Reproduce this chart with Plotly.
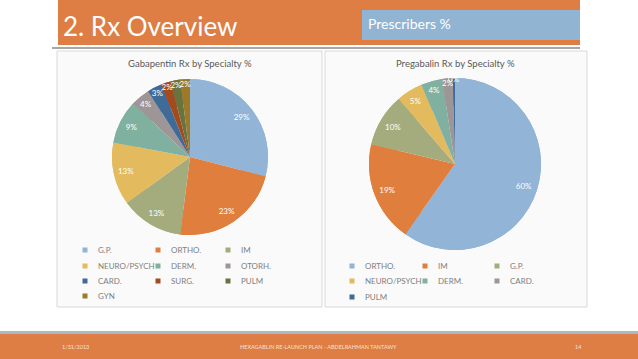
import plotly.graph_objects as go

W, H = 638, 359

# ---- data ----
gaba_labels = ["G.P.", "ORTHO.", "IM", "NEURO/PSYCH", "DERM.", "OTORH.", "CARD.", "SURG.", "PULM", "GYN"]
gaba_values = [29, 23, 13, 13, 9, 4, 3, 2, 2, 2]

prega_labels = ["ORTHO.", "IM", "G.P.", "NEURO/PSYCH", "DERM.", "CARD.", "PULM"]
prega_values = [60, 19, 10, 5, 4, 2, 0.4]

palette = ["#91B4D7", "#E07E3E", "#A4AC7D", "#E3BA5E", "#80B09F", "#9E9596",
           "#3F6B99", "#A34A1F", "#69733F", "#9C7A28"]

FONT = "Lato"


def px(x):
    return x / W


def py(y):
    return 1 - y / H


fig = go.Figure()


def add_pie(labels, values, dom):
    # full pie (colour fill)
    fig.add_trace(go.Pie(
        labels=labels, values=values, sort=False, direction="clockwise",
        marker=dict(colors=palette[:len(values)]),
        textinfo="none", domain=dom, showlegend=False, hoverinfo="skip",
    ))
    # ring on top carrying the percentage labels near the rim
    fig.add_trace(go.Pie(
        labels=labels, values=values, sort=False, direction="clockwise", hole=0.68,
        marker=dict(colors=palette[:len(values)]),
        textinfo="percent", texttemplate="%{percent:.0%}", textposition="inside",
        insidetextorientation="horizontal",
        textfont=dict(color="white", size=8, family=FONT),
        domain=dom, showlegend=False, hoverinfo="label+percent",
    ))


add_pie(gaba_labels, gaba_values, dict(x=[px(112), px(268)], y=[py(235), py(79)]))
add_pie(prega_labels, prega_values, dict(x=[px(368), px(542)], y=[py(250), py(78)]))

shapes = []
annotations = []

# header
shapes.append(dict(type="rect", xref="paper", yref="paper", x0=px(58), x1=px(580), y0=py(45), y1=py(0),
                   fillcolor="#DE7D44", line=dict(width=0), layer="below"))
shapes.append(dict(type="rect", xref="paper", yref="paper", x0=px(362), x1=px(580), y0=py(40), y1=py(10),
                   fillcolor="#92B4D3", line=dict(width=0), layer="below"))
shapes.append(dict(type="line", xref="paper", yref="paper", x0=px(52), x1=px(580), y0=py(48), y1=py(48),
                   line=dict(color="#8A8A8A", width=1.5)))
annotations.append(dict(text="2. Rx Overview", x=px(61), y=py(26), xref="paper", yref="paper",
                        xanchor="left", yanchor="middle", showarrow=False,
                        font=dict(family=FONT, size=26, color="white")))
annotations.append(dict(text="Prescribers %", x=px(366), y=py(23), xref="paper", yref="paper",
                        xanchor="left", yanchor="middle", showarrow=False,
                        font=dict(family=FONT, size=14, color="white")))

# panels
for x0, x1 in [(57, 322), (325, 587)]:
    shapes.append(dict(type="rect", xref="paper", yref="paper", x0=px(x0), x1=px(x1), y0=py(307), y1=py(51),
                       fillcolor="#FAFAFA", line=dict(color="#D9D9D9", width=1), layer="below"))

# chart titles
annotations.append(dict(text="Gabapentin Rx by Specialty %", x=px(190), y=py(64), xref="paper", yref="paper",
                        xanchor="center", yanchor="middle", showarrow=False,
                        font=dict(family=FONT, size=9.5, color="#595959")))
annotations.append(dict(text="Pregabalin Rx by Specialty %", x=px(455), y=py(64), xref="paper", yref="paper",
                        xanchor="center", yanchor="middle", showarrow=False,
                        font=dict(family=FONT, size=9.5, color="#595959")))


# legends (built from the label/colour lists)
def add_legend(labels, colors, col_x, row_y):
    for i, lab in enumerate(labels):
        cx = col_x[i % 3]
        cy = row_y[i // 3]
        shapes.append(dict(type="rect", xref="paper", yref="paper",
                           x0=px(cx - 2.5), x1=px(cx + 2.5), y0=py(cy + 2.5), y1=py(cy - 2.5),
                           fillcolor=colors[i], line=dict(width=0)))
        annotations.append(dict(text=lab, x=px(cx + 11), y=py(cy), xref="paper", yref="paper",
                                xanchor="left", yanchor="middle", showarrow=False,
                                font=dict(family=FONT, size=8, color="#7F7F7F")))


add_legend(gaba_labels, palette, [85, 158, 228], [250, 266, 281, 296])
add_legend(prega_labels, palette, [352, 425, 497], [266, 281, 297])

# footer
shapes.append(dict(type="rect", xref="paper", yref="paper", x0=0, x1=1, y0=py(335), y1=py(331),
                   fillcolor="#A9B9C6", line=dict(width=0), layer="below"))
shapes.append(dict(type="rect", xref="paper", yref="paper", x0=0, x1=1, y0=0, y1=py(334),
                   fillcolor="#DE7D44", line=dict(width=0), layer="below"))
annotations.append(dict(text="1/31/2013", x=px(75), y=py(347), xref="paper", yref="paper",
                        xanchor="center", yanchor="middle", showarrow=False,
                        font=dict(family=FONT, size=5.5, color="#F6E3D6")))
annotations.append(dict(text="HEXAGABLIN RE-LAUNCH PLAN - ABDELRAHMAN TANTAWY", x=px(318), y=py(347),
                        xref="paper", yref="paper", xanchor="center", yanchor="middle", showarrow=False,
                        font=dict(family=FONT, size=5.5, color="#F6E3D6")))
annotations.append(dict(text="14", x=px(578), y=py(347), xref="paper", yref="paper",
                        xanchor="center", yanchor="middle", showarrow=False,
                        font=dict(family=FONT, size=5.5, color="#F6E3D6")))

fig.update_layout(
    width=W, height=H,
    margin=dict(l=0, r=0, t=0, b=0),
    paper_bgcolor="white", plot_bgcolor="white",
    shapes=shapes, annotations=annotations,
    uniformtext=dict(minsize=8, mode="show"),
    font=dict(family=FONT),
)

fig.write_html("out.html", config={"displayModeBar": False},
               post_script="document.body.style.margin='0';document.body.style.overflow='hidden';")
